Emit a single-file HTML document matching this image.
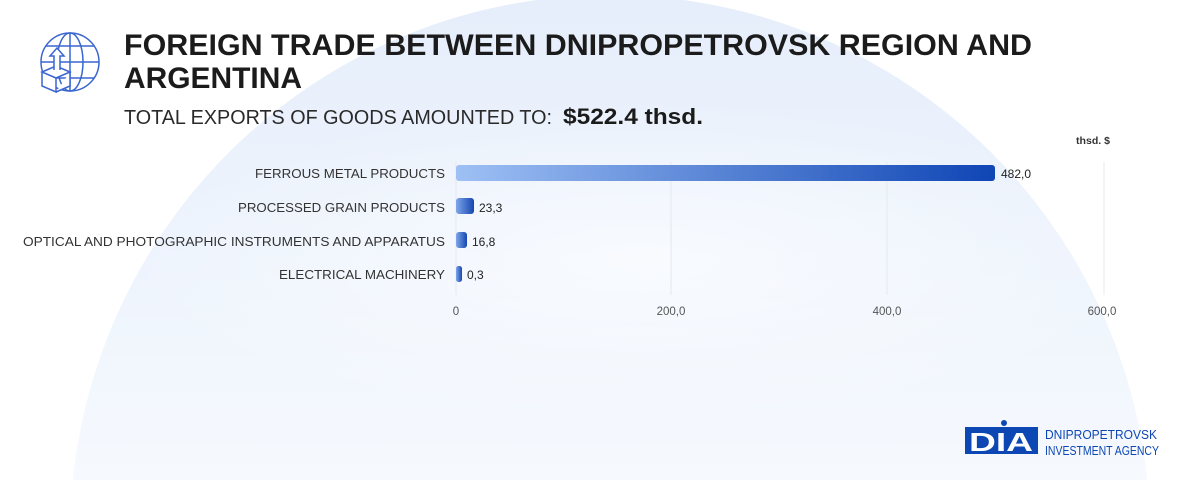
<!DOCTYPE html>
<html><head><meta charset="utf-8"><style>
html,body{margin:0;padding:0;background:#fff;overflow:hidden;width:1200px;height:480px;}
svg{display:block;font-family:"Liberation Sans",sans-serif;}
</style></head><body>
<svg width="1200" height="480" viewBox="0 0 1200 480" xmlns="http://www.w3.org/2000/svg">
<defs>
<linearGradient id="bg" x1="0" x2="0" y1="0" y2="1">
<stop offset="0" stop-color="#e6eefb"/>
<stop offset="0.25" stop-color="#eef4fd"/>
<stop offset="0.5" stop-color="#f8fbfe"/>
<stop offset="1" stop-color="#ffffff"/>
</linearGradient>
<radialGradient id="glow" cx="0.5" cy="0.5" r="0.5">
<stop offset="0" stop-color="#ffffff" stop-opacity="0.6"/>
<stop offset="1" stop-color="#ffffff" stop-opacity="0"/>
</radialGradient>
<linearGradient id="b1" x1="0" x2="1" y1="0" y2="0">
<stop offset="0" stop-color="#9ec0f4"/><stop offset="1" stop-color="#0f45b5"/>
</linearGradient>
<linearGradient id="b2" x1="0" x2="1" y1="0" y2="0">
<stop offset="0" stop-color="#7fa6ea"/><stop offset="1" stop-color="#1446b0"/>
</linearGradient>
</defs>
<rect width="1200" height="480" fill="#fff"/>
<circle cx="610" cy="535" r="540" fill="url(#bg)"/>
<ellipse cx="640" cy="260" rx="520" ry="160" fill="url(#glow)"/>
<!-- icon -->
<g fill="none" stroke="#3a66d0" stroke-width="1.5">
<circle cx="70" cy="62" r="29"/>
<ellipse cx="70" cy="62" rx="13" ry="29"/>
<line x1="41" y1="62" x2="99" y2="62"/>
<line x1="70" y1="33" x2="70" y2="91"/>
<path d="M46 46 H94 M46 78 H94"/>
<path d="M42 72 L56 66 L70 72 L56 78 Z M42 72 V86 L56 92 V78 M56 92 L70 86 V72" fill="#fff"/>
<path d="M54 70 V56 H50 L57 48 L64 56 H60 V70" fill="#fff"/>
</g>
<text x="124" y="55" font-size="30" font-weight="bold" fill="#1b1b1b" textLength="908" lengthAdjust="spacingAndGlyphs">FOREIGN TRADE BETWEEN DNIPROPETROVSK REGION AND</text>
<text x="124" y="88" font-size="30" font-weight="bold" fill="#1b1b1b" textLength="178" lengthAdjust="spacingAndGlyphs">ARGENTINA</text>
<text x="124" y="124" font-size="20" fill="#2a2a2a" textLength="428" lengthAdjust="spacingAndGlyphs">TOTAL EXPORTS OF GOODS AMOUNTED TO:</text>
<text x="563" y="124" font-size="22" font-weight="bold" fill="#1b1b1b" textLength="140" lengthAdjust="spacingAndGlyphs">$522.4 thsd.</text>
<text x="1076" y="144" font-size="10" font-weight="bold" fill="#333" textLength="34" lengthAdjust="spacingAndGlyphs">thsd. $</text>
<!-- grid -->
<g stroke="#e4e9f0" stroke-width="1">
<line x1="456" y1="162" x2="456" y2="295"/>
<line x1="671" y1="162" x2="671" y2="295"/>
<line x1="887" y1="162" x2="887" y2="295"/>
<line x1="1104" y1="162" x2="1104" y2="295"/>
</g>
<g font-size="11.5" fill="#555" text-anchor="middle">
<text x="456" y="315">0</text>
<text x="671" y="315">200,0</text>
<text x="887" y="315">400,0</text>
<text x="1102" y="315">600,0</text>
</g>
<!-- labels -->
<g font-size="12.5" fill="#333" text-anchor="end">
<text x="445" y="178" textLength="190" lengthAdjust="spacingAndGlyphs">FERROUS METAL PRODUCTS</text>
<text x="445" y="212" textLength="207" lengthAdjust="spacingAndGlyphs">PROCESSED GRAIN PRODUCTS</text>
<text x="445" y="246" textLength="422" lengthAdjust="spacingAndGlyphs">OPTICAL AND PHOTOGRAPHIC INSTRUMENTS AND APPARATUS</text>
<text x="445" y="279" textLength="166" lengthAdjust="spacingAndGlyphs">ELECTRICAL MACHINERY</text>
</g>
<rect x="456" y="165" width="539" height="16" rx="3" fill="url(#b1)"/>
<rect x="456" y="198" width="18" height="16" rx="3" fill="url(#b2)"/>
<rect x="456" y="232" width="11" height="16" rx="3" fill="url(#b2)"/>
<rect x="456" y="266" width="6" height="16" rx="2.5" fill="url(#b2)"/>
<g font-size="12" fill="#222">
<text x="1001" y="178">482,0</text>
<text x="479" y="212">23,3</text>
<text x="472" y="246">16,8</text>
<text x="467" y="279">0,3</text>
</g>
<!-- logo -->
<g>
<rect x="965" y="427" width="73" height="27" fill="#0d47b3"/>
<text x="1001" y="451" font-size="26" font-weight="bold" fill="#fff" text-anchor="middle" textLength="64" lengthAdjust="spacingAndGlyphs">DIA</text>
<circle cx="1004" cy="423" r="3" fill="#0d47b3"/>
<text x="1045" y="439" font-size="13" fill="#0d47b3" textLength="112" lengthAdjust="spacingAndGlyphs">DNIPROPETROVSK</text>
<text x="1045" y="455" font-size="13" fill="#0d47b3" textLength="114" lengthAdjust="spacingAndGlyphs">INVESTMENT AGENCY</text>
</g>
</svg>
</body></html>
